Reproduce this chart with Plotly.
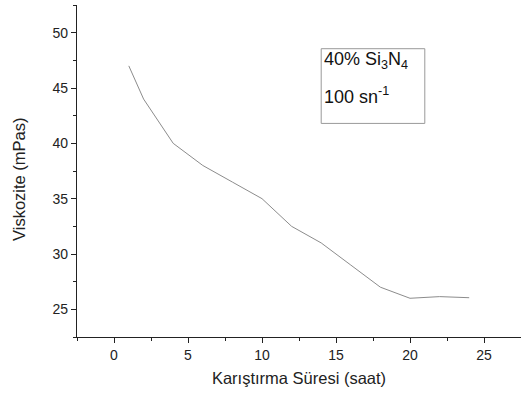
import plotly.graph_objects as go

hours = [1, 2, 4, 6, 8, 10, 12, 14, 16, 18, 20, 22, 24]
viscosity = [47.0, 44.0, 40.0, 38.0, 36.5, 35.0, 32.5, 31.0, 29.0, 27.0, 26.0, 26.15, 26.05]

x_title = "Karıştırma Süresi (saat)"
y_title = "Viskozite (mPas)"
label_line1 = "40% Si<sub>3</sub>N<sub>4</sub>"
label_line2 = "100 sn<sup>-1</sup>"

font_family = "Liberation Sans, Arial, sans-serif"

fig = go.Figure()
fig.add_trace(go.Scatter(x=hours, y=viscosity, mode="lines",
                         line=dict(color="#8c8c8c", width=1), showlegend=False))

axis_common = dict(
    showgrid=False, zeroline=False, showline=True, linecolor="#222", linewidth=1.3,
    ticks="outside", ticklen=5, tickwidth=1.3, tickcolor="#222",
    tickfont=dict(family=font_family, size=14, color="#222"),
    mirror=False, automargin=False,
)

fig.update_layout(
    width=521, height=394,
    margin=dict(l=77, r=0, t=5, b=57, autoexpand=False),
    paper_bgcolor="white", plot_bgcolor="white",
    font=dict(family=font_family, color="#222"),
    xaxis=dict(range=[-2.5, 27.5], tick0=0, dtick=5,
               minor=dict(dtick=2.5, ticks="outside", ticklen=3, tickcolor="#222", tickwidth=1.3),
               title=dict(text=x_title, font=dict(family=font_family, size=16.5, color="#222"), standoff=10),
               **axis_common),
    yaxis=dict(range=[22.5, 52.5], tick0=0, dtick=5,
               minor=dict(dtick=2.5, ticks="outside", ticklen=3, tickcolor="#222", tickwidth=1.3),
               **axis_common),
)

# y-axis title (placed slightly below the axis centre, as in the reference)
fig.add_annotation(xref="paper", yref="paper", x=-0.1306, y=0.473, text=y_title, textangle=-90,
                   showarrow=False, xanchor="center", yanchor="middle",
                   font=dict(family=font_family, size=16.5, color="#222"))

fig.add_shape(type="rect", xref="x", yref="y", x0=14.0, x1=21.0, y0=41.8, y1=48.55,
              line=dict(color="#999", width=1), fillcolor="rgba(0,0,0,0)")
fig.add_annotation(xref="x", yref="y", x=14.05, y=47.5, text=label_line1, showarrow=False,
                   xanchor="left", yanchor="middle", font=dict(family=font_family, size=18, color="#111"))
fig.add_annotation(xref="x", yref="y", x=14.05, y=44.3, text=label_line2, showarrow=False,
                   xanchor="left", yanchor="middle", font=dict(family=font_family, size=18, color="#111"))

fig.write_html("out.html", config={"displayModeBar": False},
               post_script="document.body.style.margin='0';document.body.style.overflow='hidden';")
